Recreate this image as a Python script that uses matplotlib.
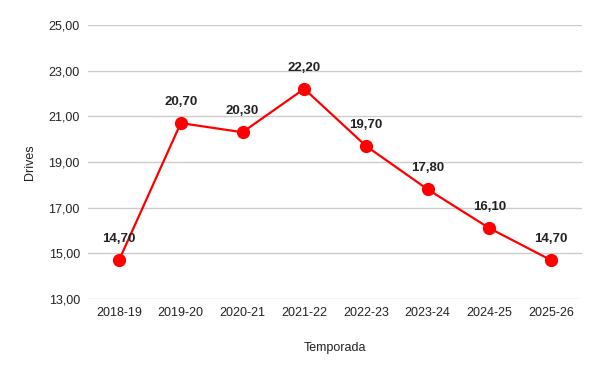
import matplotlib
matplotlib.use("Agg")
import matplotlib.pyplot as plt

seasons = ["2018-19", "2019-20", "2020-21", "2021-22", "2022-23", "2023-24", "2024-25", "2025-26"]
drives = [14.7, 20.7, 20.3, 22.2, 19.7, 17.8, 16.1, 14.7]
y_ticks = [13, 15, 17, 19, 21, 23, 25]

plt.rcParams["font.family"] = ["Liberation Sans", "DejaVu Sans"]

fig = plt.figure(figsize=(6, 3.71), dpi=100)
ax = fig.add_axes([0.147, 0.194, 0.823, 0.739])

x = list(range(len(seasons)))
ax.plot(x, drives, color="#ff0000", linewidth=1.6, marker="o",
        markersize=8.5, markerfacecolor="#ff0000", markeredgecolor="#ff0000", zorder=3)

for xi, v in zip(x, drives):
    ax.annotate(f"{v:.2f}".replace(".", ","), (xi, v), xytext=(0, 11),
                textcoords="offset points", ha="center", va="bottom",
                fontsize=9.5, fontweight="bold", color="#222222")

ax.set_xlim(-0.5, 7.5)
ax.set_ylim(13, 25)
ax.set_yticks(y_ticks)
ax.set_yticklabels([f"{t:.2f}".replace(".", ",") for t in y_ticks])
ax.set_xticks(x)
ax.set_xticklabels(seasons)
ax.tick_params(length=0, labelsize=9, colors="#222222", pad=6)
ax.grid(axis="y", color="#cccccc", linewidth=1)
ax.set_axisbelow(True)
for s in ax.spines.values():
    s.set_visible(False)

ax.set_xlabel("Temporada", fontsize=9, color="#222222", labelpad=16)
ax.set_ylabel("Drives", fontsize=9, color="#222222", labelpad=9)

fig.savefig("out.png", dpi=100)
